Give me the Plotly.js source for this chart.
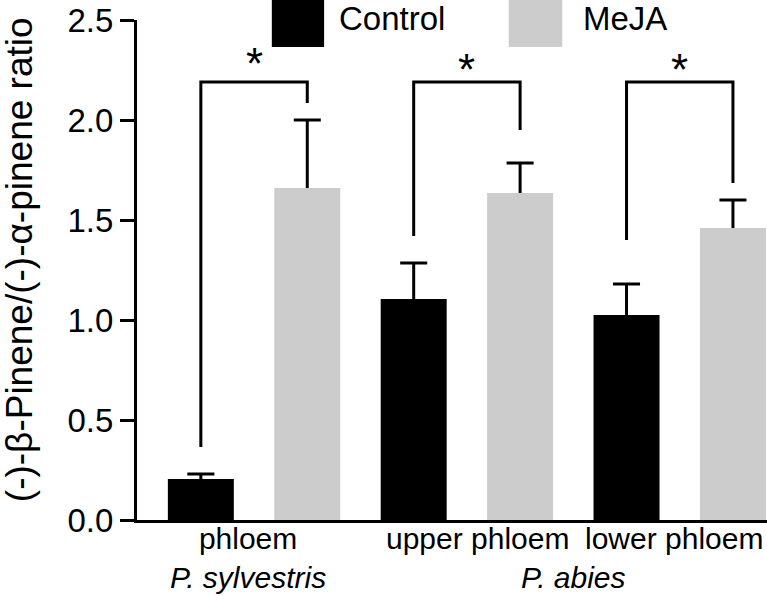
<!DOCTYPE html>
<html>
<head>
<meta charset="utf-8">
<script src="https://cdn.plot.ly/plotly-3.0.1.min.js"></script>
<style>html,body{margin:0;padding:0;background:#fff;}#chart{width:767px;height:596px;}</style>
</head>
<body>
<div id="chart"></div>
<script>
// ---- data ----
const categories = ["phloem", "upper phloem", "lower phloem"];
const speciesLabels = ["P. sylvestris", "P. abies"];
const seriesNames = ["Control", "MeJA"];
const controlValues = [0.205, 1.105, 1.025];
const controlErrors = [0.025, 0.18, 0.155];
const mejaValues = [1.66, 1.635, 1.46];
const mejaErrors = [0.34, 0.15, 0.14];
// significance brackets (value units)
const bracketTop = [2.19, 2.19, 2.19];
const bracketLeftBottom = [0.365, 1.42, 1.40];
const bracketRightBottom = [2.085, 1.95, 1.685];
const sigMarks = ["*", "*", "*"];
const yTitle = "(-)-β-Pinene/(-)-α-pinene ratio";

const FONT = "Arial, 'Liberation Sans', sans-serif";
const BLACK = "#000000", GRAY = "#cccccc";

const traces = [
  {type: "bar", name: seriesNames[0], x: categories, y: controlValues,
   marker: {color: BLACK, line: {width: 0}}, showlegend: false, cliponaxis: false},
  {type: "bar", name: seriesNames[1], x: categories, y: mejaValues,
   marker: {color: GRAY, line: {width: 0}}, showlegend: false, cliponaxis: false}
];

const shapes = [];
const annotations = [];
const CAP = 0.0635; // half cap width in category units

// upward-only error bars
[[controlValues, controlErrors, -0.25], [mejaValues, mejaErrors, 0.25]].forEach(([vals, errs, off]) => {
  vals.forEach((v, i) => {
    const xc = i + off, top = v + errs[i];
    shapes.push({type: "line", xref: "x", yref: "y", x0: xc, x1: xc, y0: v, y1: top, line: {color: BLACK, width: 3}});
    shapes.push({type: "line", xref: "x", yref: "y", x0: xc - CAP, x1: xc + CAP, y0: top, y1: top, line: {color: BLACK, width: 3}});
  });
});

// significance brackets and asterisks
categories.forEach((c, i) => {
  const xl = i - 0.25, xr = i + 0.25;
  shapes.push({type: "path", xref: "x", yref: "y",
    path: `M ${xl} ${bracketLeftBottom[i]} L ${xl} ${bracketTop[i]} L ${xr} ${bracketTop[i]} L ${xr} ${bracketRightBottom[i]}`,
    line: {color: BLACK, width: 3}});
  annotations.push({xref: "x", yref: "y", x: i, y: bracketTop[i] + (i === 0 ? -0.04 : -0.07), text: sigMarks[i],
    showarrow: false, yanchor: "bottom", font: {family: FONT, size: 44, color: BLACK}});
});

// category labels + species labels
const labFont = {family: FONT, size: 30, color: BLACK};
annotations.push({xref: "x", yref: "paper", x: -0.027, y: 0.0, yanchor: "top",
  text: categories[0] + "<br><i>" + speciesLabels[0] + "</i>", showarrow: false, font: labFont});
annotations.push({xref: "x", yref: "paper", x: 1.05, y: 0.0, yanchor: "top",
  text: categories[1], showarrow: false, font: labFont});
annotations.push({xref: "x", yref: "paper", x: 1.975, y: 0.0, yanchor: "top",
  text: categories[2], showarrow: false, font: labFont});
annotations.push({xref: "x", yref: "paper", x: 1.5, y: -0.078, yanchor: "top",
  text: "<i>" + speciesLabels[1] + "</i>", showarrow: false, font: labFont});

// y title
annotations.push({xref: "paper", yref: "paper", x: -0.187, y: 0.52, text: yTitle, textangle: -90,
  showarrow: false, xanchor: "center", yanchor: "middle", font: {family: FONT, size: 37, color: BLACK}});

// legend (custom)
const legendItems = [
  {name: seriesNames[0], color: BLACK, x0: 0.214, x1: 0.297, tx: 0.318},
  {name: seriesNames[1], color: GRAY, x0: 0.590, x1: 0.675, tx: 0.705}
];
legendItems.forEach(it => {
  shapes.push({type: "rect", xref: "paper", yref: "paper", x0: it.x0, x1: it.x1, y0: 0.946, y1: 1.04,
    fillcolor: it.color, line: {width: 0}});
  annotations.push({xref: "paper", yref: "paper", x: it.tx, y: 1.004, xanchor: "left", yanchor: "middle",
    text: it.name, showarrow: false, font: {family: FONT, size: 33, color: BLACK}});
});

const layout = {
  width: 767, height: 596,
  margin: {l: 137, r: 0, t: 20, b: 76, pad: 0},
  paper_bgcolor: "#ffffff", plot_bgcolor: "#ffffff",
  font: {family: FONT, color: BLACK},
  barmode: "group", bargap: 0, bargroupgap: 0.38,
  showlegend: false,
  xaxis: {
    type: "category", range: [-0.55, 2.41], showline: true, linecolor: BLACK, linewidth: 3,
    ticks: "", showticklabels: false, showgrid: false, zeroline: false, fixedrange: true
  },
  yaxis: {
    range: [0, 2.5], dtick: 0.5, tick0: 0, tickformat: ".1f",
    showline: true, linecolor: BLACK, linewidth: 3,
    ticks: "outside", ticklen: 14, tickwidth: 3, tickcolor: BLACK,
    showgrid: false, zeroline: false, fixedrange: true,
    tickfont: {family: FONT, size: 33, color: BLACK}
  },
  shapes: shapes,
  annotations: annotations
};

Plotly.newPlot("chart", traces, layout, {displayModeBar: false, staticPlot: true});
</script>
</body>
</html>
